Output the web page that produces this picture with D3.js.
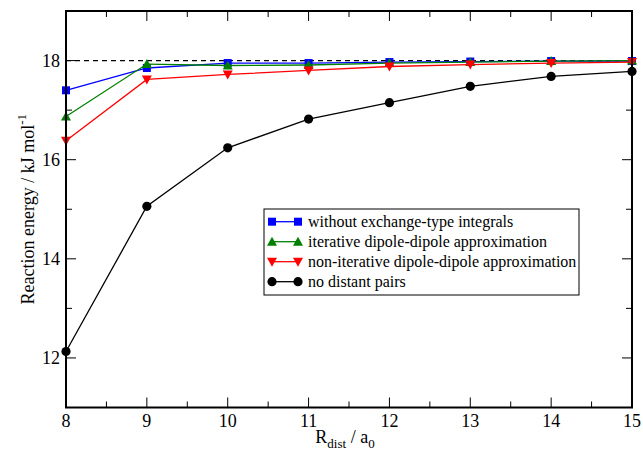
<!DOCTYPE html>
<html><head><meta charset="utf-8">
<script src="https://cdn.jsdelivr.net/npm/d3@7"></script>
<style>body{margin:0;background:#fff}svg{display:block}</style>
</head><body>
<svg id="c" width="643" height="453"></svg>
<script>
const xValues = [8, 9, 10, 11, 12, 13, 14, 15];
const withoutExchange = [17.40, 17.85, 17.95, 17.95, 17.97, 17.98, 17.99, 17.99];
const iterativeDD = [16.87, 17.93, 17.90, 17.91, 17.95, 17.97, 17.99, 18.00];
const nonIterativeDD = [16.38, 17.62, 17.72, 17.80, 17.88, 17.92, 17.95, 17.97];
const noDistantPairs = [12.13, 15.06, 16.24, 16.82, 17.15, 17.48, 17.68, 17.78];
const referenceLevel = 18.0;
const xTicks = [8, 9, 10, 11, 12, 13, 14, 15];
const yTicks = [12, 14, 16, 18];
const seriesNames = ["without exchange-type integrals", "iterative dipole-dipole approximation", "non-iterative dipole-dipole approximation", "no distant pairs"];

const svg = d3.select("#c");
const L = 66, R = 632, T = 11, B = 407.5;
const x = d3.scaleLinear().domain([8, 15]).range([L, R]);
const y = d3.scaleLinear().domain([11, 19]).range([B, T]);
const font = "Liberation Serif";

const series = [
  {name: seriesNames[0], vals: withoutExchange, color: "#0000ff", sym: "square"},
  {name: seriesNames[1], vals: iterativeDD, color: "#008000", sym: "tri"},
  {name: seriesNames[2], vals: nonIterativeDD, color: "#ff0000", sym: "tridown"},
  {name: seriesNames[3], vals: noDistantPairs, color: "#000000", sym: "circle"}
];

function marker(g, sym, cx, cy, color) {
  if (sym === "square") g.append("rect").attr("x", cx-4).attr("y", cy-4).attr("width", 8).attr("height", 8).attr("fill", color);
  else if (sym === "circle") g.append("circle").attr("cx", cx).attr("cy", cy).attr("r", 4.6).attr("fill", color);
  else if (sym === "tri") g.append("path").attr("d", `M${cx},${cy-5}L${cx+5},${cy+4}L${cx-5},${cy+4}Z`).attr("fill", color);
  else g.append("path").attr("d", `M${cx},${cy+5}L${cx+5},${cy-4}L${cx-5},${cy-4}Z`).attr("fill", color);
}

// ticks (inward, all four sides)
const tk = svg.append("g").attr("stroke", "#000").attr("stroke-width", 1);
d3.range(8, 15.01, 0.5).forEach(v => {
  const len = Number.isInteger(v) ? 10 : 6;
  tk.append("line").attr("x1", x(v)).attr("x2", x(v)).attr("y1", B).attr("y2", B-len);
  tk.append("line").attr("x1", x(v)).attr("x2", x(v)).attr("y1", T).attr("y2", T+len);
});
d3.range(11, 19.01, 1).forEach(v => {
  const len = (v % 2 === 0) ? 10 : 6;
  tk.append("line").attr("y1", y(v)).attr("y2", y(v)).attr("x1", L).attr("x2", L+len);
  tk.append("line").attr("y1", y(v)).attr("y2", y(v)).attr("x1", R).attr("x2", R-len);
});

// tick labels
svg.append("g").selectAll("text").data(xTicks).join("text")
  .attr("x", d => x(d)).attr("y", 427).attr("text-anchor", "middle")
  .style("font-family", font).style("font-size", "18px").text(d => d);
svg.append("g").selectAll("text").data(yTicks).join("text")
  .attr("x", 60).attr("y", d => y(d)).attr("dy", "0.34em").attr("text-anchor", "end")
  .style("font-family", font).style("font-size", "18px").text(d => d);

// reference dashed line
svg.append("line").attr("x1", x(8)).attr("x2", x(15)).attr("y1", y(referenceLevel)).attr("y2", y(referenceLevel))
  .attr("stroke", "#000").attr("stroke-width", 1.2).attr("stroke-dasharray", "5,4");

// series
const line = d3.line().x((d, i) => x(xValues[i])).y(d => y(d));
series.forEach(s => {
  const g = svg.append("g");
  g.append("path").attr("d", line(s.vals)).attr("fill", "none").attr("stroke", s.color).attr("stroke-width", 1.3);
  s.vals.forEach((v, i) => marker(g, s.sym, x(xValues[i]), y(v), s.color));
});

// frame
svg.append("rect").attr("x", L).attr("y", T).attr("width", R-L).attr("height", B-T)
  .attr("fill", "none").attr("stroke", "#000").attr("stroke-width", 2);

// legend
const lg = svg.append("g");
lg.append("rect").attr("x", 264).attr("y", 209).attr("width", 315).attr("height", 86)
  .attr("fill", "#fff").attr("stroke", "#000").attr("stroke-width", 1);
series.forEach((s, i) => {
  const yy = 221.7 + i*20;
  lg.append("line").attr("x1", 272).attr("x2", 298).attr("y1", yy).attr("y2", yy).attr("stroke", s.color).attr("stroke-width", 1.3);
  marker(lg, s.sym, 272, yy, s.color);
  marker(lg, s.sym, 298, yy, s.color);
  lg.append("text").attr("x", 308).attr("y", yy).attr("dy", "0.33em")
    .style("font-family", font).style("font-size", "16px").text(s.name);
});

// axis titles
const xt = svg.append("text").attr("x", 345).attr("y", 443).attr("text-anchor", "middle")
  .style("font-family", font).style("font-size", "18px");
xt.append("tspan").text("R");
xt.append("tspan").style("font-size", "13px").attr("dy", 5).text("dist");
xt.append("tspan").attr("dy", -5).text(" / a");
xt.append("tspan").style("font-size", "13px").attr("dy", 5).text("0");

const yt = svg.append("text").attr("transform", `translate(33.5,${(T+B)/2}) rotate(-90)`)
  .attr("text-anchor", "middle").style("font-family", font).style("font-size", "18px");
yt.append("tspan").text("Reaction energy / kJ mol");
yt.append("tspan").style("font-size", "13px").attr("dy", -8).text("-1");
</script>
</body></html>
